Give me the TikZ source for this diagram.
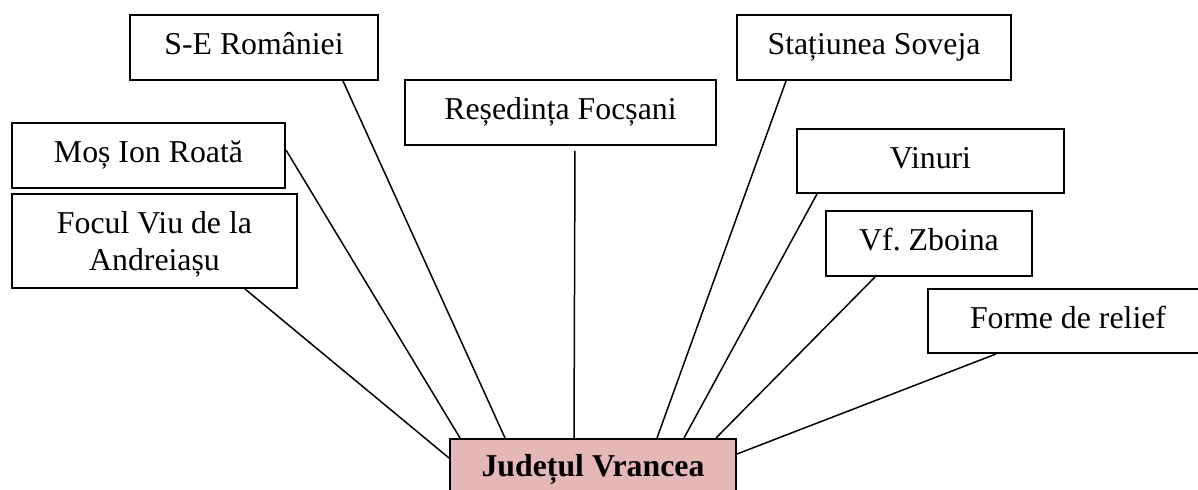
\documentclass[tikz,border=0pt]{standalone}
\usepackage{fontspec}
\setmainfont{Liberation Serif}
\frenchspacing
\definecolor{judfill}{HTML}{E5B8B7}
\begin{document}
\begin{tikzpicture}[x=0.5pt,y=-0.5pt,
  box/.style={draw=black, line width=1pt, rectangle, inner sep=0pt,
    text height=11pt, text depth=3.5pt,
    font=\fontsize{15.9}{18.5}\selectfont},
  link/.style={draw=black, line width=0.75pt}]
\clip (0,0) rectangle (1198,490);
\node[box, minimum width=124pt, minimum height=32.5pt] (se) at (254,47.5) {S-E României};
\node[box, minimum width=155.5pt, minimum height=32.5pt] (res) at (560.5,112.5) {Reședința Focșani};
\node[box, minimum width=137pt, minimum height=32.5pt] (stat) at (874,47.5) {Stațiunea Soveja};
\node[box, minimum width=136.5pt, minimum height=32.5pt] (mos) at (148.5,155.5) {Moș Ion Roată};
\node[box, minimum width=133.5pt, minimum height=32pt] (vin) at (930.5,161) {Vinuri};
\node[box, minimum width=142.5pt, minimum height=47pt, align=center, text height=, text depth=0pt] (foc) at (154.5,241) {Focul Viu de la\\Andreiașu};
\node[box, minimum width=103pt, minimum height=32.5pt] (zb) at (929,243.5) {Vf. Zboina};
\node[box, minimum width=140pt, minimum height=32pt] (forme) at (1068,321) {Forme de relief};
\node[box, fill=judfill, minimum width=143pt, minimum height=38pt, text height=5pt, text depth=5pt, font=\fontsize{15.9}{18.5}\selectfont\bfseries] (jud) at (593,477) {Județul Vrancea};
\draw[link] ([xshift=44.5pt]se.south) -- ([xshift=-44pt]jud.north);
\draw[link, shorten <=2.5pt] ([xshift=7.25pt]res.south) -- ([xshift=-9.5pt]jud.north);
\draw[link] ([xshift=-44pt]stat.south) -- ([xshift=32pt]jud.north);
\draw[link] ([xshift=-56.75pt]vin.south) -- ([xshift=45.5pt]jud.north);
\draw[link] ([xshift=-27pt]zb.south) -- ([xshift=61.5pt]jud.north);
\draw[link] ([xshift=-36pt]forme.south) -- ([yshift=11.5pt]jud.east);
\draw[link] ([yshift=2.75pt]mos.east) -- ([xshift=-66.5pt]jud.north);
\draw[link] ([xshift=45.25pt]foc.south) -- ([yshift=9.5pt]jud.west);
\end{tikzpicture}
\end{document}
